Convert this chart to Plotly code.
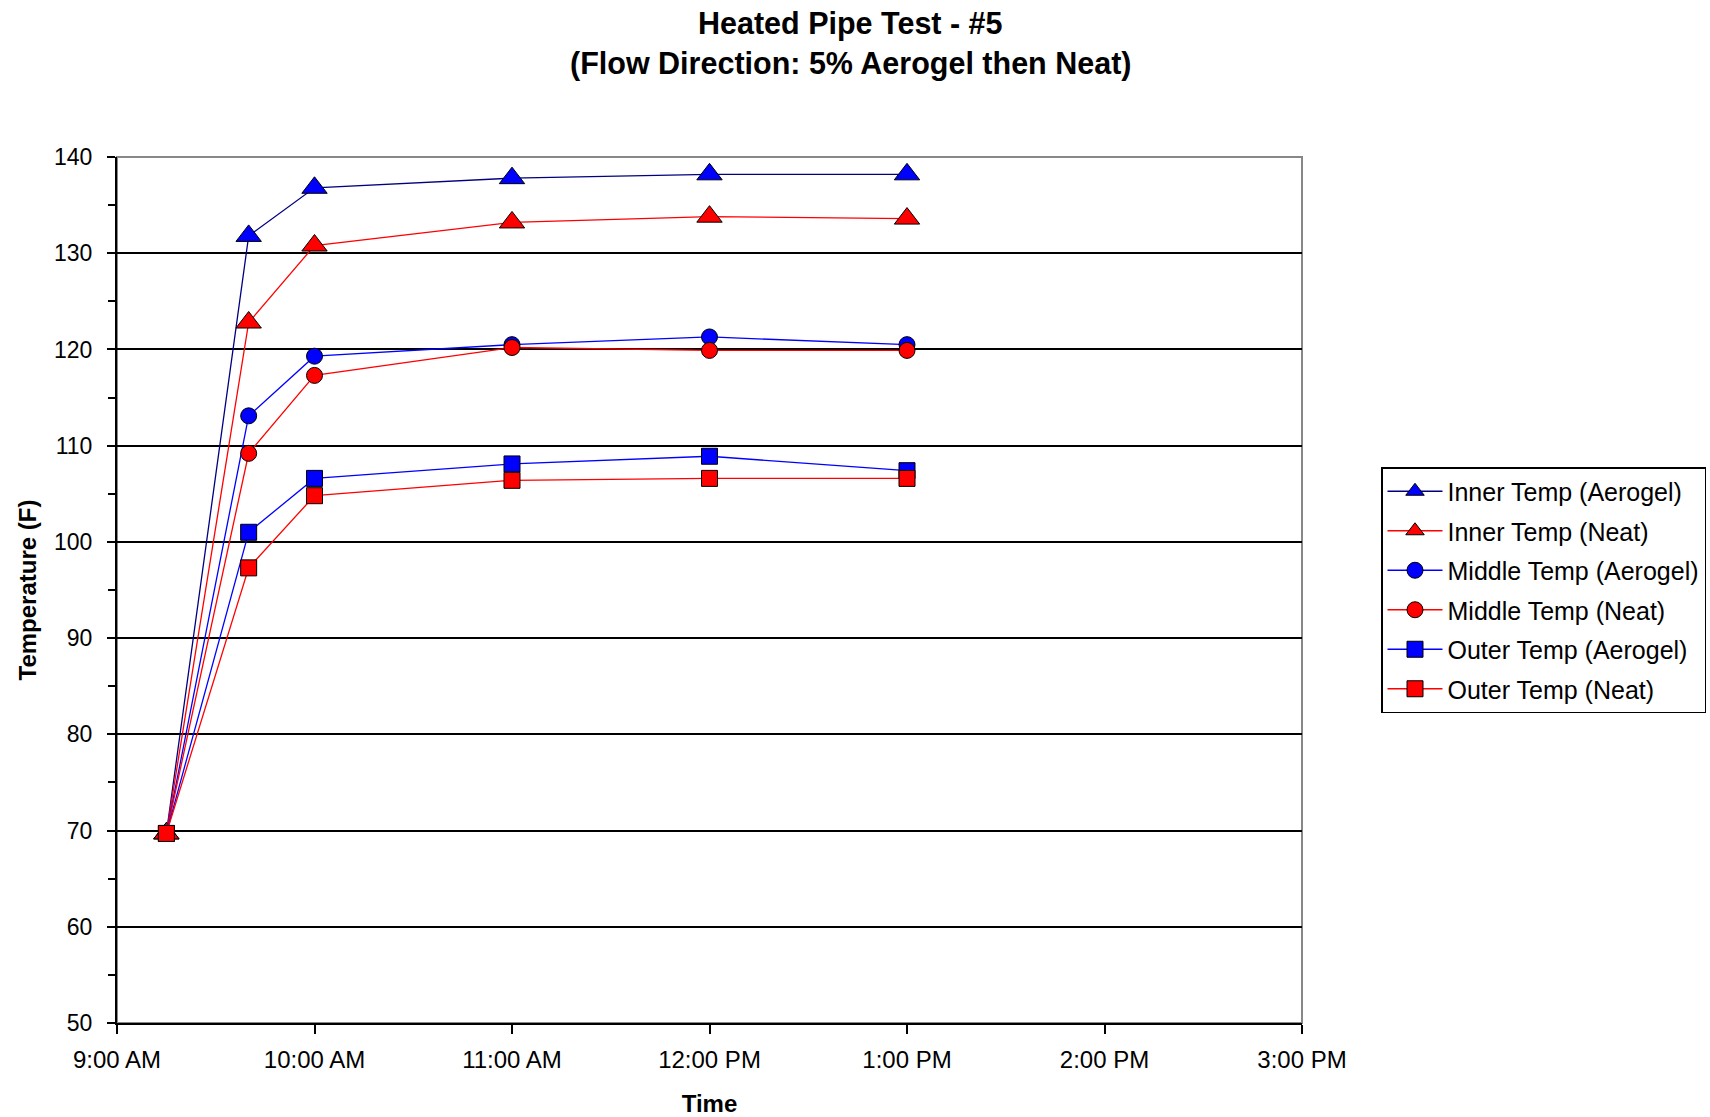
import plotly.graph_objects as go

times = ["2000-01-01 09:15", "2000-01-01 09:40", "2000-01-01 10:00",
         "2000-01-01 11:00", "2000-01-01 12:00", "2000-01-01 13:00"]

inner_aerogel = [69.7, 131.8, 136.8, 137.8, 138.2, 138.2]
inner_neat = [69.7, 122.8, 130.8, 133.2, 133.8, 133.6]
middle_aerogel = [69.7, 113.1, 119.3, 120.5, 121.3, 120.5]
middle_neat = [69.7, 109.2, 117.3, 120.2, 119.9, 119.9]
outer_aerogel = [69.7, 101.0, 106.6, 108.1, 108.9, 107.4]
outer_neat = [69.7, 97.3, 104.8, 106.4, 106.6, 106.6]

title_lines = ["Heated Pipe Test - #5", "(Flow Direction: 5% Aerogel then Neat)"]

series = [
    ("Inner Temp (Aerogel)", inner_aerogel, "#000080", "#0000FF", "triangle-up", 22),
    ("Inner Temp (Neat)", inner_neat, "#FF0000", "#FF0000", "triangle-up", 22),
    ("Middle Temp (Aerogel)", middle_aerogel, "#0000FF", "#0000FF", "circle", 16),
    ("Middle Temp (Neat)", middle_neat, "#FF0000", "#FF0000", "circle", 16),
    ("Outer Temp (Aerogel)", outer_aerogel, "#0000FF", "#0000FF", "square", 16),
    ("Outer Temp (Neat)", outer_neat, "#FF0000", "#FF0000", "square", 16),
]

FONT = "Liberation Sans, Arial, sans-serif"

fig = go.Figure()
for i, (name, vals, lc, mc, sym, sz) in enumerate(series):
    fig.add_trace(go.Scatter(
        x=times, y=vals, name=name, mode="lines+markers",
        legendgroup=f"g{i}",
        line=dict(color=lc, width=1.3),
        marker=dict(symbol=sym, size=sz, color=mc, line=dict(color="black", width=1)),
    ))

# title lines placed as annotations (page-centred)
title_y = [1.1547, 1.1085]
for txt, yy in zip(title_lines, title_y):
    fig.add_annotation(
        text=f"<b>{txt}</b>", xref="paper", yref="paper",
        x=(850 - 117) / 1185, y=yy, xanchor="center", yanchor="middle",
        showarrow=False, font=dict(size=30.5, family=FONT, color="black"),
    )

fig.update_layout(
    width=1710, height=1117,
    margin=dict(l=117, r=408, t=157, b=94, autoexpand=False),
    paper_bgcolor="white", plot_bgcolor="white",
    font=dict(family=FONT, color="black"),
    legend=dict(
        xref="container", yref="container",
        x=1381 / 1710, y=1 - 467 / 1117, xanchor="left", yanchor="top",
        bordercolor="black", borderwidth=1.5, bgcolor="white",
        font=dict(size=25, family=FONT, color="black"),
        tracegroupgap=4, traceorder="grouped", itemwidth=55,
    ),
    shapes=[dict(type="rect", xref="paper", yref="paper", x0=0, x1=1, y0=0, y1=1,
                 line=dict(color="#888888", width=2), layer="below")],
)

fig.update_xaxes(
    type="date", automargin=False,
    range=["2000-01-01 09:00", "2000-01-01 15:00"],
    dtick=3600000, tick0="2000-01-01 09:00",
    tickformat="%-I:%M %p",
    showgrid=False, zeroline=False,
    showline=True, linecolor="black", linewidth=2,
    ticks="outside", ticklen=9, tickcolor="black", tickwidth=1.5,
    tickfont=dict(size=24, family=FONT, color="black"),
    ticklabelstandoff=5,
    title=dict(text="<b>Time</b>", font=dict(size=24, family=FONT, color="black"), standoff=23),
)

fig.update_yaxes(
    automargin=False,
    range=[50, 140], dtick=10, tick0=50,
    showgrid=True, gridcolor="black", gridwidth=1.5,
    zeroline=False,
    showline=True, linecolor="black", linewidth=2,
    ticks="outside", ticklen=8, tickcolor="black", tickwidth=1.5,
    minor=dict(dtick=5, ticks="outside", ticklen=7, tickcolor="black", tickwidth=1.5, showgrid=False),
    tickfont=dict(size=23, family=FONT, color="black"),
    ticklabelstandoff=10,
    title=dict(text="<b>Temperature (F)</b>", font=dict(size=24, family=FONT, color="black"), standoff=11),
)

fig.write_html("out.html")
